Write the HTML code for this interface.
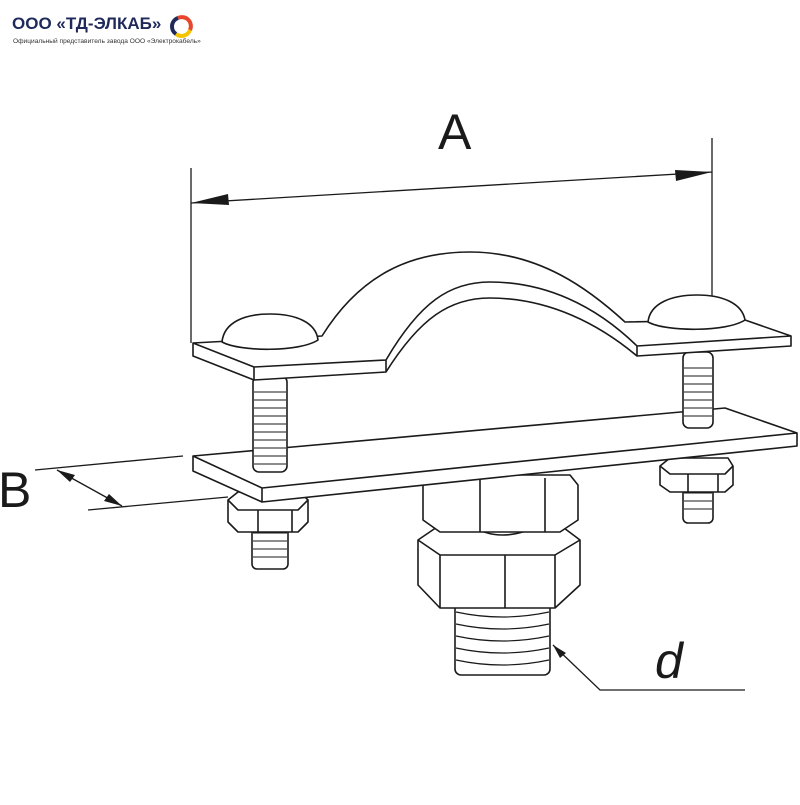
<!DOCTYPE html>
<html><head><meta charset="utf-8"><style>
body{margin:0;background:#fff;width:800px;height:800px;overflow:hidden;font-family:"Liberation Sans",sans-serif}
</style></head><body>
<svg width="800" height="800" viewBox="0 0 800 800" xmlns="http://www.w3.org/2000/svg">
<rect width="800" height="800" fill="#fff"/>
<text x="12" y="29" font-family="Liberation Sans, sans-serif" font-weight="bold" font-size="17" fill="#1f2a5a">ООО «ТД-ЭЛКАБ»</text>
<text x="13" y="43" font-family="Liberation Sans, sans-serif" font-size="6.6" fill="#333">Официальный представитель завода ООО «Электрокабель»</text>
<g fill="none" stroke-width="4">
<path d="M178,18 A9,9 0 0 1 190,30" stroke="#e8452a"/>
<path d="M190,30 A9,9 0 0 1 176,34" stroke="#f5c400"/>
<path d="M176,34 A9,9 0 0 1 178,18" stroke="#1f2a5a"/>
</g>
<g fill="#fff" stroke="#1a1a1a" stroke-width="1.6" stroke-linejoin="round">
<rect x="455" y="600" width="95" height="75" rx="6"/>
<g stroke-width="1.2" fill="none"><path d="M456,612 Q502,622 549,612 M456,624 Q502,634 549,624 M456,636 Q502,646 549,636 M456,648 Q502,658 549,648 M456,660 Q502,670 549,660"/></g>
<path d="M418,540 L440,525 L560,525 L580,540 L580,585 L555,608 L440,608 L418,585 Z"/>
<path fill="none" d="M418,540 L440,555 L555,555 L580,540 M440,555 L440,608 M505,555 L505,608 M555,555 L555,608"/>
<path fill="none" d="M470,525 Q500,545 540,525" />
<path d="M423,485 L440,475 L570,475 L578,485 L578,520 L560,532 L440,532 L423,520 Z"/>
<path fill="none" d="M480,478 L480,532 M545,478 L545,532"/>
<rect x="252" y="525" width="36" height="44" rx="5"/>
<path d="M253,533 H287 M253,541 H287 M253,549 H287 M253,557 H287" stroke-width="1"/>
<path d="M228,500 L238,492 L300,492 L308,500 L308,522 L298,532 L238,532 L228,522 Z"/>
<path fill="none" d="M228,500 L238,510 L298,510 L308,500 M258,510 V532 M292,510 V532"/>
<rect x="683" y="485" width="30" height="38" rx="5"/>
<path d="M684,493 H712 M684,501 H712 M684,509 H712" stroke-width="1"/>
<path d="M660,466 L670,458 L728,458 L733,466 L733,485 L725,492 L670,492 L660,485 Z"/>
<path fill="none" d="M660,466 L670,474 L725,474 L733,466 M688,474 V492 M718,474 V492"/>
<path d="M193,456 L725,408 L797,433 L797,446 L262,502 L193,471 Z"/>
<path fill="none" d="M193,456 L262,488 L797,433 M262,488 V502"/>
<rect x="253" y="376" width="34" height="96" rx="6"/>
<path d="M254,392 H286 M254,400 H286 M254,408 H286 M254,416 H286 M254,424 H286 M254,432 H286 M254,440 H286 M254,448 H286 M254,456 H286 M254,464 H286" stroke-width="1"/>
<rect x="683" y="352" width="30" height="76" rx="6"/>
<path d="M684,368 H712 M684,376 H712 M684,384 H712 M684,392 H712 M684,400 H712 M684,408 H712 M684,416 H712" stroke-width="1"/>
<path d="M193,343 L322,336 C360,275 410,252 470,252 C540,252 590,290 625,322 L745,320 L791,336 L791,346 L637,356 C600,325 550,298 490,298 C450,298 420,318 386,372 L254,380 L193,356 Z"/>
<path fill="none" d="M193,343 L254,367 L386,360 C420,302 450,282 490,282 C545,282 595,305 637,346 L791,336 M254,367 V380 M637,346 V356 M386,360 V372"/>
<path d="M222,342 C224,322 245,314 270,314 C295,314 316,322 318,340 C300,352 240,352 222,342 Z"/>
<path d="M648,322 C650,303 672,295 697,295 C722,295 742,303 745,320 C727,332 666,332 648,322 Z"/>
</g>
<g stroke="#1a1a1a" stroke-width="1.3" fill="none">
<path d="M191,168 V343 M712,138 V296 M191,203 L712,172"/>
<path d="M35,470 L183,456 M88,510 L228,497 M57,470 L122,506"/>
<path d="M553,645 L600,690 L745,690"/>
</g>
<g fill="#1a1a1a">
<path d="M191,203 L228,194 L229,205 Z"/>
<path d="M712,172 L675,170 L676,181 Z"/>
<path d="M57,470 L75,475 L70,482 Z"/>
<path d="M122,506 L104,501 L109,494 Z"/>
<path d="M553,645 L566,653 L560,658 Z"/>
</g>
<text x="438" y="149" font-family="Liberation Sans, sans-serif" font-size="50" fill="#1a1a1a">A</text>
<text x="-2" y="507" font-family="Liberation Sans, sans-serif" font-size="50" fill="#1a1a1a">B</text>
<text x="655" y="678" font-family="Liberation Sans, sans-serif" font-style="italic" font-size="50" fill="#1a1a1a">d</text>
</svg>
</body></html>
